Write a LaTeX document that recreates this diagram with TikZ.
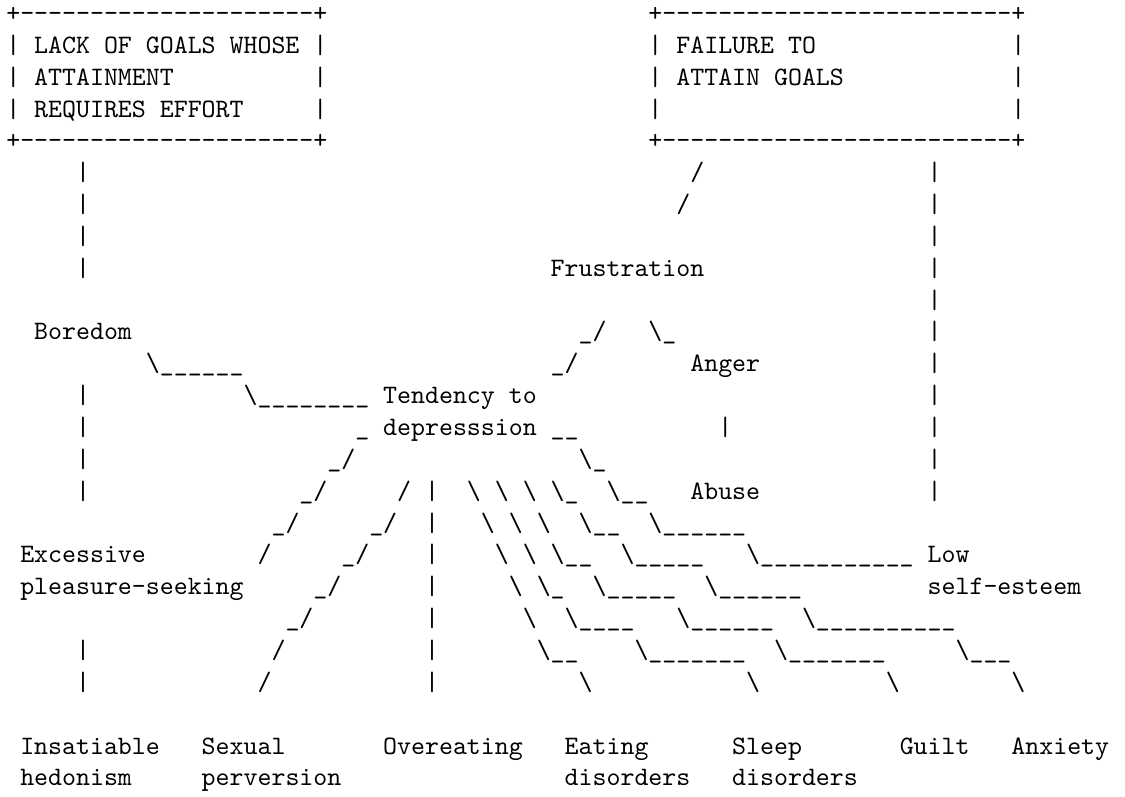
\documentclass[tikz,border=0pt]{standalone}
\ExplSyntaxOn
\NewExpandableDocumentCommand\rep{mm}{\prg_replicate:nn{#1}{#2}}
\ExplSyntaxOff
\DeclareFontFamily{TU}{lmttten}{\hyphenchar\font=-1 }
\DeclareFontShape{TU}{lmttten}{m}{n}{<-> "[lmmono10-regular]:"}{}
\newcommand\tten{\fontfamily{lmttten}\fontseries{m}\fontshape{n}}
\newsavebox\mybox
\newcommand\bs{\textbackslash}
\newcommand\dd{-\kern0pt}
\newcommand\T[4]{\node[txt] (#1) at ({6.3+13.96*(#2)},{21.45+31.85*((#3)-1)}) {#4};}
\AtBeginDocument{%
  \sbox\mybox{\tten\fontsize{20}{24}\selectfont M}%
  \pgfmathsetmacro\fs{20*13.96/\the\wd\mybox}%
  \global\let\fs\fs}
\begin{document}
\begin{tikzpicture}[x=1pt,y=-1pt]
\tikzset{txt/.style={anchor=base west,inner sep=0pt,outer sep=0pt,text=black,
  font=\tten\fontsize{\fs}{\fs}\selectfont}}
\fill[white] (0,0) rectangle (1125,796);
% boxes
\T{b1a}{0}{1}{+\rep{21}{\dd}+}
\T{b1b}{46}{1}{+\rep{25}{\dd}+}
\T{l2a}{0}{2}{|}\T{l2b}{2}{2}{LACK OF GOALS WHOSE}\T{l2c}{22}{2}{|}
\T{l2d}{46}{2}{|}\T{l2e}{48}{2}{FAILURE TO}\T{l2f}{72}{2}{|}
\T{l3a}{0}{3}{|}\T{l3b}{2}{3}{ATTAINMENT}\T{l3c}{22}{3}{|}
\T{l3d}{46}{3}{|}\T{l3e}{48}{3}{ATTAIN GOALS}\T{l3f}{72}{3}{|}
\T{l4a}{0}{4}{|}\T{l4b}{2}{4}{REQUIRES EFFORT}\T{l4c}{22}{4}{|}
\T{l4d}{46}{4}{|}\T{l4f}{72}{4}{|}
\T{b5a}{0}{5}{+\rep{21}{\dd}+}
\T{b5b}{46}{5}{+\rep{25}{\dd}+}
% line 6-10
\T{l6a}{5}{6}{|}\T{l6b}{49}{6}{/}\T{l6c}{66}{6}{|}
\T{l7a}{5}{7}{|}\T{l7b}{48}{7}{/}\T{l7c}{66}{7}{|}
\T{l8a}{5}{8}{|}\T{l8c}{66}{8}{|}
\T{l9a}{5}{9}{|}\T{frus}{39}{9}{Frustration}\T{l9c}{66}{9}{|}
\T{l10c}{66}{10}{|}
% line 11
\T{bore}{2}{11}{Boredom}\T{l11b}{41}{11}{\_/}\T{l11c}{46}{11}{\bs\_}\T{l11d}{66}{11}{|}
% line 12
\T{l12a}{10}{12}{\bs\rep{6}{\_}}\T{l12b}{39}{12}{\_/}\T{anger}{49}{12}{Anger}\T{l12d}{66}{12}{|}
% line 13
\T{l13a}{5}{13}{|}\T{l13b}{17}{13}{\bs\rep{8}{\_}}\T{tend}{27}{13}{Tendency to}\T{l13d}{66}{13}{|}
% line 14
\T{l14a}{5}{14}{|}\T{l14b}{25}{14}{\_}\T{depr}{27}{14}{depresssion}\T{l14c}{39}{14}{\_\_}
\T{l14d}{51}{14}{|}\T{l14e}{66}{14}{|}
% line 15
\T{l15a}{5}{15}{|}\T{l15b}{23}{15}{\_/}\T{l15c}{41}{15}{\bs\_}\T{l15d}{66}{15}{|}
% line 16
\T{l16a}{5}{16}{|}\T{l16b}{21}{16}{\_/}\T{l16c}{28}{16}{/}\T{l16d}{30}{16}{|}
\T{l16e}{33}{16}{\bs}\T{l16f}{35}{16}{\bs}\T{l16g}{37}{16}{\bs}\T{l16h}{39}{16}{\bs\_}
\T{l16i}{43}{16}{\bs\_\_}\T{abuse}{49}{16}{Abuse}\T{l16k}{66}{16}{|}
% line 17
\T{l17a}{19}{17}{\_/}\T{l17b}{26}{17}{\_/}\T{l17c}{30}{17}{|}
\T{l17d}{34}{17}{\bs}\T{l17e}{36}{17}{\bs}\T{l17f}{38}{17}{\bs}
\T{l17g}{41}{17}{\bs\_\_}\T{l17h}{46}{17}{\bs\rep{6}{\_}}
% line 18
\T{exc}{1}{18}{Excessive}\T{l18a}{18}{18}{/}\T{l18b}{24}{18}{\_/}\T{l18c}{30}{18}{|}
\T{l18d}{35}{18}{\bs}\T{l18e}{37}{18}{\bs}\T{l18f}{39}{18}{\bs\_\_}
\T{l18g}{44}{18}{\bs\rep{5}{\_}}\T{l18h}{53}{18}{\bs\rep{11}{\_}}\T{low}{66}{18}{Low}
% line 19
\T{plea}{1}{19}{pleasure-seeking}\T{l19a}{22}{19}{\_/}\T{l19b}{30}{19}{|}
\T{l19c}{36}{19}{\bs}\T{l19d}{38}{19}{\bs\_}\T{l19e}{42}{19}{\bs\rep{5}{\_}}
\T{l19f}{50}{19}{\bs\rep{6}{\_}}\T{self}{66}{19}{self-esteem}
% line 20
\T{l20a}{20}{20}{\_/}\T{l20b}{30}{20}{|}\T{l20c}{37}{20}{\bs}
\T{l20d}{40}{20}{\bs\rep{4}{\_}}\T{l20e}{48}{20}{\bs\rep{6}{\_}}\T{l20f}{57}{20}{\bs\rep{10}{\_}}
% line 21
\T{l21a}{5}{21}{|}\T{l21b}{19}{21}{/}\T{l21c}{30}{21}{|}\T{l21d}{38}{21}{\bs\_\_}
\T{l21e}{45}{21}{\bs\rep{7}{\_}}\T{l21f}{55}{21}{\bs\rep{7}{\_}}\T{l21g}{68}{21}{\bs\rep{3}{\_}}
% line 22
\T{l22a}{5}{22}{|}\T{l22b}{18}{22}{/}\T{l22c}{30}{22}{|}\T{l22d}{41}{22}{\bs}
\T{l22e}{53}{22}{\bs}\T{l22f}{63}{22}{\bs}\T{l22g}{72}{22}{\bs}
% labels
\T{insa}{1}{24}{Insatiable}\T{sexu}{14}{24}{Sexual}\T{over}{27}{24}{Overeating}
\T{eati}{40}{24}{Eating}\T{slee}{52}{24}{Sleep}\T{guil}{64}{24}{Guilt}\T{anxi}{72}{24}{Anxiety}
\T{hedo}{1}{25}{hedonism}\T{perv}{14}{25}{perversion}\T{diso1}{40}{25}{disorders}\T{diso2}{52}{25}{disorders}
\end{tikzpicture}
\end{document}
